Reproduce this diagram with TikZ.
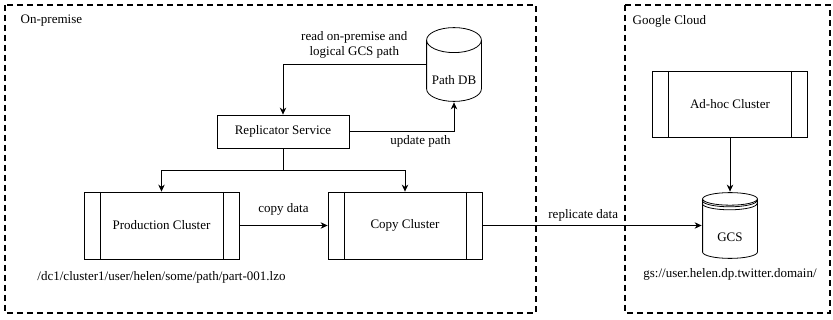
\documentclass[tikz,border=0pt]{standalone}
\usepackage{fontspec}
\setmainfont{Liberation Serif}
\usetikzlibrary{positioning,arrows.meta,calc}

\begin{document}
\begin{tikzpicture}[x=1pt, y=-1pt, font=\fontsize{13}{15.5}\selectfont,
    line width=0.8pt, >={Stealth[length=7pt,width=6.5pt]},
    region/.style={line width=1.6pt, dash pattern=on 6pt off 4pt},
    service/.style={draw, minimum width=132pt, minimum height=33pt},
    cluster/.style={draw, minimum width=155pt, minimum height=67pt,
        path picture={
            \draw ([xshift=16pt]path picture bounding box.north west) -- ([xshift=16pt]path picture bounding box.south west);
            \draw ([xshift=-16pt]path picture bounding box.north east) -- ([xshift=-16pt]path picture bounding box.south east);
        }},
    db/.style={inner sep=0pt, minimum width=56pt,
        path picture={
            \draw let \p1=(path picture bounding box.north west),
                      \p2=(path picture bounding box.south east),
                      \n1={(\x2-\x1)/2-0.6pt} in
                (\x1+0.6pt,\y1-#1-0.6pt) -- (\x1+0.6pt,\y2+#1+0.6pt)
                arc[start angle=180, end angle=360, x radius=\n1, y radius=#1]
                -- (\x2-0.6pt,\y1-#1-0.6pt)
                (\x1/2+\x2/2,\y1-#1-0.6pt) ellipse[x radius=\n1, y radius=#1];
        }},
]
    \useasboundingbox (0,0) rectangle (833,320);

    % regions
    \draw[region] (5,5) rectangle (536,313);
    \draw[region] (625,5) rectangle (830,313);
    \node[anchor=west] (onpremlbl) at (17,21) {On-premise};
    \node[anchor=west] (cloudlbl) at (629,21) {Google Cloud};

    % on-premise
    \node[service] (rep) at (283,131.5) {Replicator Service};
    \node[db=12.5pt, minimum height=75pt, text height=40pt, text depth=0pt] (pathdb) at (454,64.5) {Path DB};
    \node[cluster] (prod) at (161.5,225.5) {Production Cluster};
    \node[cluster, minimum width=154pt] (copy) at (405,225.5) {Copy Cluster};
    \node[below=8pt of prod] (srcpath) {/dc1/cluster1/user/helen/some/path/part-001.lzo};

    % google cloud
    \node[cluster, minimum height=66pt] (adhoc) at (730,104) {Ad-hoc Cluster};
    \node[db=6.3pt, minimum height=67pt, text height=32pt, text depth=0pt] (gcs) at (730,225.5) {GCS};
    \foreach \d in {2,5}
        \draw ([shift={(0.6pt,-6.9pt-\d pt)}]gcs.north west) arc[start angle=180, end angle=360, x radius=27.4pt, y radius=6.3pt];
    \node[below=5pt of gcs] (dstpath) {gs://user.helen.dp.twitter.domain/};

    % connectors
    \draw[->] (pathdb.west) -| (rep.north) node[pos=0.25, above=2pt, align=center] {read on-premise and\\logical GCS path};
    \draw[->] (rep.east) -| (pathdb.south) node[pos=0.34, below] {update path};
    \draw[->] (rep.south) -- ++(0,22) -| (prod.north);
    \draw[->] (rep.south) -- ++(0,22) -| (copy.north);
    \draw[->] (prod) -- (copy) node[midway, above=6pt] {copy data};
    \draw[->] (copy) -- (gcs) node[pos=0.46, above] {replicate data};
    \draw[->] (adhoc) -- (gcs);
\end{tikzpicture}
\end{document}
